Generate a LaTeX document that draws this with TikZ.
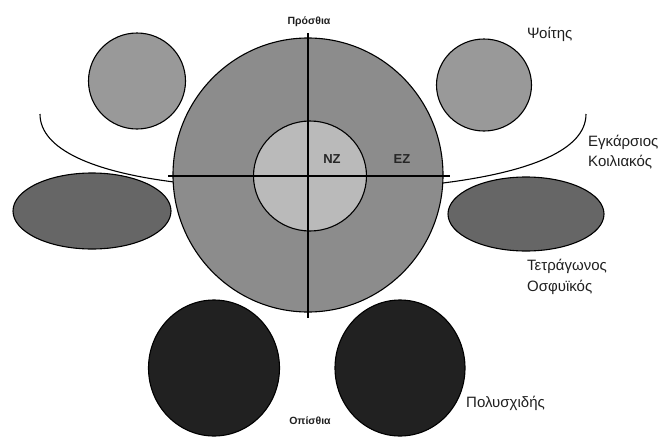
\documentclass[tikz,border=0pt]{standalone}
\usepackage{fontspec}
\setmainfont{Liberation Sans}
\usetikzlibrary{shapes.geometric}
\definecolor{spinegray}{gray}{0.55}
\definecolor{nucleusgray}{gray}{0.73}
\definecolor{psoasgray}{gray}{0.6}
\definecolor{quadgray}{gray}{0.4}
\definecolor{multigray}{gray}{0.13}
\definecolor{txt}{gray}{0.12}
\begin{document}
\begin{tikzpicture}[x=1pt,y=-1pt,
  muscle/.style={draw=black, line width=1.1pt, inner sep=0pt, ellipse},
  axis/.style={draw=black, line width=1.1pt},
  lbl/.style={font=\fontsize{15}{18}\selectfont, text=txt, inner sep=0pt, anchor=west},
  small/.style={font=\bfseries\fontsize{10.5}{12}\selectfont, text=txt, inner sep=0pt},
  zone/.style={font=\bfseries\fontsize{13}{14}\selectfont, text=black!85, inner sep=0pt}]
\useasboundingbox (0,0) rectangle (667,437);

% transversus abdominis curves
\coordinate (tl0) at (40,114);
\coordinate (tl1) at (174,182);
\coordinate (tr0) at (586,114);
\coordinate (tr1) at (443,183);
\draw[line width=1.1pt] (tl0) .. controls (40,150) and (95,172) .. (tl1);
\draw[line width=1.1pt] (tr0) .. controls (586,150) and (530,172) .. (tr1);

% main disc
\node[muscle, fill=spinegray, minimum width=270, minimum height=274] (disc) at (308,175) {};
\node[muscle, fill=nucleusgray, minimum width=113, minimum height=110] (nz) at (310,176) {};

% axes
\coordinate (vtop) at (308,33);
\coordinate (vbot) at (308,318);
\coordinate (hl) at (168,176);
\coordinate (hr) at (450,176);
\draw[axis] (vtop) -- (vbot);
\draw[axis] (hl) -- (hr);

% psoas
\node[muscle, fill=psoasgray, minimum width=97, minimum height=96] (psl) at (137,81) {};
\node[muscle, fill=psoasgray, minimum width=95, minimum height=92] (psr) at (484,85) {};

% quadratus lumborum
\node[muscle, fill=quadgray, minimum width=158, minimum height=76] (qll) at (92,211) {};
\node[muscle, fill=quadgray, minimum width=156, minimum height=74] (qlr) at (526,214) {};

% multifidus
\node[muscle, fill=multigray, minimum width=131, minimum height=136] (mfl) at (214,368) {};
\node[muscle, fill=multigray, minimum width=130, minimum height=136] (mfr) at (400,368) {};

% labels
\node[small] (ant) at (309,22) {Πρόσθια};
\node[small] (post) at (310,421) {Οπίσθια};
\node[zone] (nzl) at (332,159) {ΝΖ};
\node[zone] (ezl) at (402,159) {ΕΖ};
\node[lbl] (ps) at (527,34) {Ψοίτης};
\node[lbl] (ta1) at (588,142) {Εγκάρσιος};
\node[lbl] (ta2) at (588,162) {Κοιλιακός};
\node[lbl] (ql1) at (527,266) {Τετράγωνος};
\node[lbl] (ql2) at (527,287) {Οσφυϊκός};
\node[lbl] (mf) at (466,403) {Πολυσχιδής};
\end{tikzpicture}
\end{document}
